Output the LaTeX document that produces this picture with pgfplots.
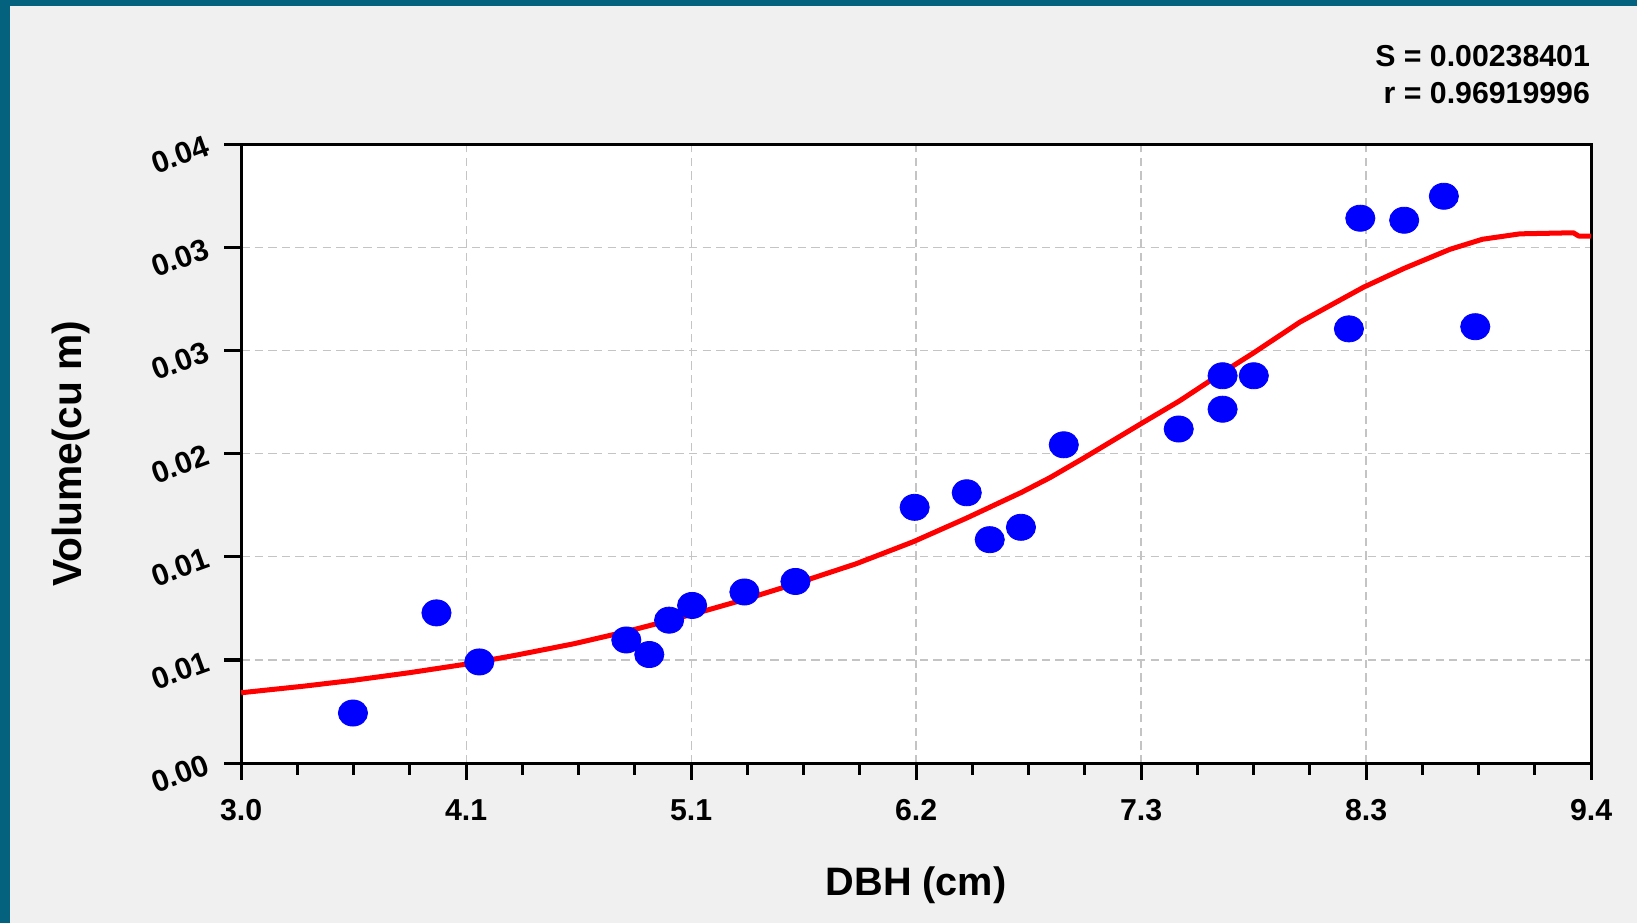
\documentclass[border=0pt]{standalone}
\usepackage{pgfplots}
\pgfplotsset{compat=1.18}
\usepackage{fontspec}
\setmainfont{Liberation Sans}
\definecolor{bgc}{HTML}{F0F0F0}
\definecolor{framec}{HTML}{04627E}
\definecolor{gridc}{HTML}{C4C4C4}
\begin{document}
\begin{tikzpicture}
\fill[bgc] (-115.5pt,-76.5pt) rectangle (668.5pt,365.5pt);
\fill[framec] (-115.5pt,362.7pt) rectangle (668.5pt,365.5pt);
\fill[framec] (-115.5pt,-76.5pt) rectangle (-110.9pt,365.5pt);
\begin{axis}[
  at={(0pt,0pt)}, anchor=south west,
  scale only axis, width=646.5pt, height=296.5pt,
  xmin=3, xmax=9.4, ymin=0, ymax=0.04,
  scaled y ticks=false, scaled x ticks=false,
  axis background/.style={fill=white},
  axis line style={line width=1.5pt},
  xtick={3,4.0666667,5.1333333,6.2,7.2666667,8.3333333,9.4},
  xticklabels={3.0,4.1,5.1,6.2,7.3,8.3,9.4},
  ytick={0,0.00666667,0.01333333,0.02,0.02666667,0.03333333,0.04},
  yticklabels={0.00,0.01,0.01,0.02,0.03,0.03,0.04},
  minor x tick num=3, minor y tick num=3,
  tick align=outside, xtick pos=bottom, ytick pos=left,
  major tick length=8pt, minor tick length=5.5pt,
  every tick/.style={black, line width=1.5pt},
  grid=major,
  major grid style={gridc, line width=0.6pt, dash pattern=on 4pt off 2.5pt},
  ticklabel style={font=\bfseries\fontsize{14.5}{14.5}\selectfont},
  xticklabel style={anchor=base, yshift=-19.5pt},
  yticklabel style={rotate=20, anchor=east, xshift=-4pt, yshift=2.5pt},
  clip=true,
]
\addplot[only marks, mark=*, mark size=6.25pt,
  mark options={fill=blue, draw=blue, xscale=1.12}] coordinates {
(3.530,0.00324) (3.926,0.00971) (4.129,0.00654) (4.826,0.00796)
(4.935,0.00702) (5.029,0.00924) (5.138,0.01019) (5.386,0.01106)
(5.628,0.01174) (6.193,0.01653) (6.440,0.01747) (6.549,0.01444)
(6.697,0.01524) (6.900,0.02057) (7.445,0.02159) (7.653,0.02503)
(7.653,0.02287) (7.801,0.02503) (8.252,0.02806) (8.306,0.03521)
(8.514,0.03508) (8.702,0.03663) (8.851,0.02820)
};
\addplot[red, line width=2.4pt, line join=round] coordinates {
(3.000,0.00455) (3.300,0.00498) (3.530,0.00535) (3.800,0.00585)
(4.067,0.00640) (4.300,0.00697) (4.579,0.00772) (4.826,0.00850)
(5.018,0.00918) (5.200,0.00985) (5.400,0.01063) (5.634,0.01162)
(5.915,0.01288) (6.187,0.01431) (6.440,0.01584) (6.700,0.01750)
(6.835,0.01845) (6.993,0.01970) (7.262,0.02190) (7.448,0.02340)
(7.654,0.02525) (7.799,0.02650) (8.020,0.02850) (8.321,0.03075)
(8.514,0.03197) (8.731,0.03320) (8.885,0.03385) (9.063,0.03420)
(9.316,0.03427) (9.341,0.03406) (9.400,0.03406)
};
\end{axis}
\node[anchor=base east, font=\bfseries\fontsize{14.5}{14.5}\selectfont] at (649.5pt,333.6pt) {S = 0.00238401};
\node[anchor=base east, font=\bfseries\fontsize{14.5}{14.5}\selectfont] at (649.5pt,315.7pt) {r = 0.96919996};
\node[anchor=base, font=\bfseries\fontsize{19}{19}\selectfont] at (323.25pt,-63.5pt) {DBH (cm)};
\node[rotate=90, font=\bfseries\fontsize{19.5}{19.5}\selectfont] at (-81.5pt,148.25pt) {Volume(cu m)};
\end{tikzpicture}
\end{document}
